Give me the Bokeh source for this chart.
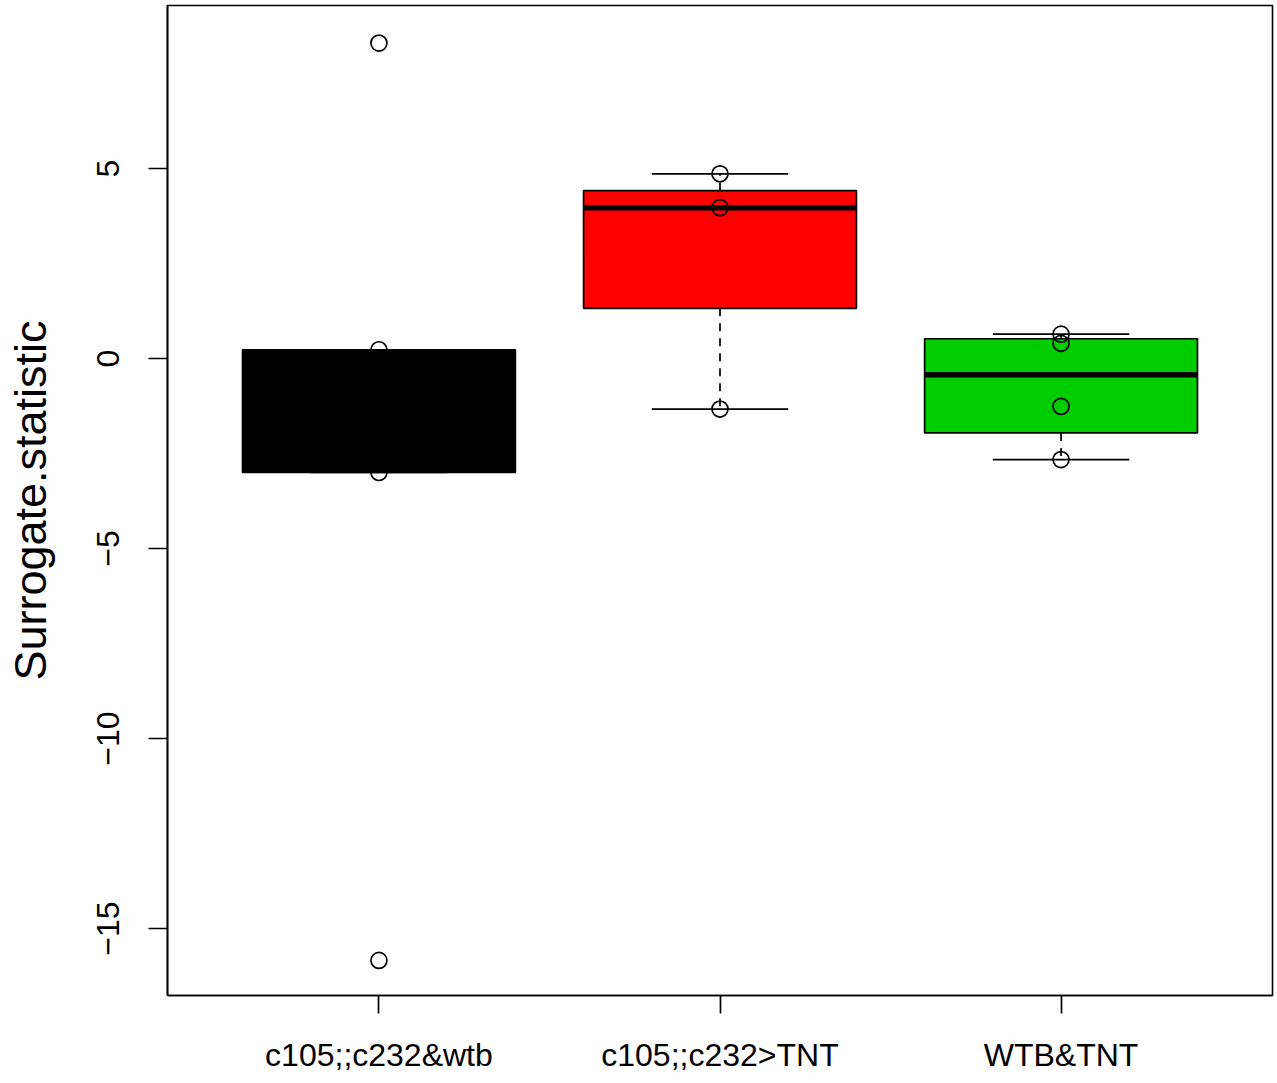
import numpy as np
from bokeh.plotting import figure
from bokeh.models import Range1d, FixedTicker, ColumnDataSource
from bokeh.embed import file_html
from bokeh.resources import INLINE

# ---- data ----
categories = ["c105;;c232&wtb", "c105;;c232>TNT", "WTB&TNT"]
group1 = [8.30, 0.23, -1.20, -3.00, -15.84]
group2 = [4.86, 3.97, -1.33]
group3 = [0.64, 0.40, -1.26, -2.66]
groups = [group1, group2, group3]
fill_colors = ["#000000", "#FF0000", "#00CD00"]
y_ticks = [-15, -10, -5, 0, 5]
y_tick_labels = ["\u221215", "\u221210", "\u22125", "0", "5"]
y_title = "Surrogate.statistic"

FONT = "Liberation Sans"


def fivenum(v):
    v = np.sort(np.asarray(v, dtype=float))
    n = len(v)
    n4 = np.floor((n + 3) / 2) / 2
    d = np.array([1, n4, (n + 1) / 2, n + 1 - n4, n]) - 1
    return 0.5 * (v[np.floor(d).astype(int)] + v[np.ceil(d).astype(int)])


xs = np.arange(1, len(categories) + 1)
box_w = 0.8
stats = []
for g in groups:
    mn, lo, med, hi, mx = fivenum(g)
    iqr = hi - lo
    arr = np.asarray(g)
    inside = arr[(arr >= lo - 1.5 * iqr) & (arr <= hi + 1.5 * iqr)]
    stats.append(dict(lo=lo, med=med, hi=hi, wlo=inside.min(), whi=inside.max()))

p = figure(width=1277, height=1083, output_backend="svg", toolbar_location=None,
           x_range=Range1d(0.38, 3.62), y_range=Range1d(-16.763, 9.289),
           min_border_left=167, min_border_right=5, min_border_top=5,
           min_border_bottom=88)
p.grid.visible = False
p.background_fill_color = "white"
p.outline_line_color = "black"
p.outline_line_width = 1.6

LW = 1.7

src_box = ColumnDataSource(dict(
    x=xs,
    lo=[s["lo"] for s in stats],
    hi=[s["hi"] for s in stats],
    med=[s["med"] for s in stats],
    wlo=[s["wlo"] for s in stats],
    whi=[s["whi"] for s in stats],
    color=fill_colors,
))

# whiskers (dashed)
p.segment(x0="x", y0="hi", x1="x", y1="whi", source=src_box,
          line_color="black", line_width=LW, line_dash="8 7")
p.segment(x0="x", y0="lo", x1="x", y1="wlo", source=src_box,
          line_color="black", line_width=LW, line_dash="8 7")
# caps
cap = box_w / 4
src_box.data["cl"] = list(xs - cap)
src_box.data["cr"] = list(xs + cap)
p.segment(x0="cl", y0="whi", x1="cr", y1="whi", source=src_box,
          line_color="black", line_width=LW)
p.segment(x0="cl", y0="wlo", x1="cr", y1="wlo", source=src_box,
          line_color="black", line_width=LW)
# boxes
p.vbar(x="x", width=box_w, bottom="lo", top="hi", source=src_box,
       fill_color="color", line_color="black", line_width=LW)
# medians
src_box.data["bl"] = list(xs - box_w / 2)
src_box.data["br"] = list(xs + box_w / 2)
p.segment(x0="bl", y0="med", x1="br", y1="med", source=src_box,
          line_color="black", line_width=5.5)

# points
px, py = [], []
for x, g in zip(xs, groups):
    px += [x] * len(g)
    py += list(g)
p.scatter(px, py, marker="circle", size=16, fill_color=None,
          line_color="black", line_width=1.7)

# axes
xa = p.xaxis[0]
xa.ticker = FixedTicker(ticks=list(xs))
xa.major_label_overrides = {int(x): c for x, c in zip(xs, categories)}
xa.minor_tick_line_color = None
xa.major_tick_out = 18
xa.major_tick_in = 0
xa.major_tick_line_width = LW
xa.axis_line_width = LW
xa.major_label_text_font = FONT
xa.major_label_text_font_size = "32px"
xa.major_label_text_color = "black"
xa.major_label_standoff = 23

ya = p.yaxis[0]
ya.ticker = FixedTicker(ticks=y_ticks)
ya.major_label_overrides = {t: l for t, l in zip(y_ticks, y_tick_labels)}
ya.minor_tick_line_color = None
ya.major_tick_out = 19
ya.major_tick_in = 0
ya.major_tick_line_width = LW
ya.axis_line_width = LW
ya.major_label_orientation = "vertical"
ya.major_label_text_font = FONT
ya.major_label_text_font_size = "32px"
ya.major_label_text_color = "black"
ya.major_label_standoff = 29
ya.axis_label = y_title
ya.axis_label_text_font = FONT
ya.axis_label_text_font_size = "45px"
ya.axis_label_text_font_style = "normal"
ya.axis_label_text_color = "black"
ya.axis_label_standoff = 39

open("out.html", "w").write(file_html(p, INLINE))
